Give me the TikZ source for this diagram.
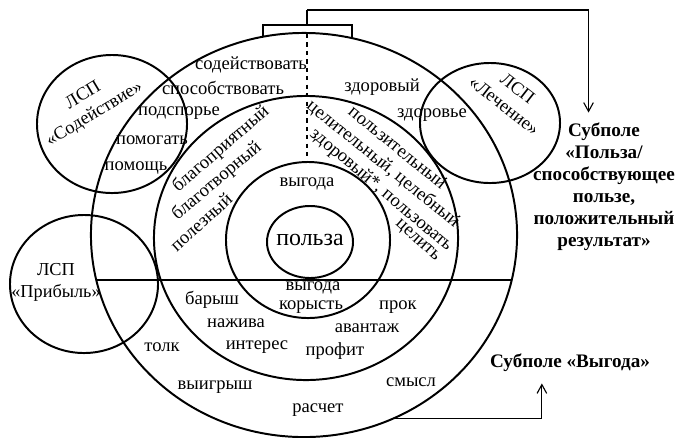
\documentclass[tikz,border=0pt]{standalone}
\usepackage{fontspec}
\setmainfont{Liberation Serif}
\newfontfamily\tms{Liberation Serif}
\usetikzlibrary{arrows.meta, positioning, shapes.geometric}

\begin{document}
\begin{tikzpicture}[
  x=0.025cm, y=-0.025cm,
  >={Straight Barb[length=2.2mm, width=2.4mm]},
  every node/.style={font=\tms\fontsize{13.2}{15}\selectfont, inner sep=1pt},
  ring/.style={draw, ellipse, line width=1.4pt, inner sep=0pt, outer sep=0pt},
  lsp/.style={align=center, font=\tms\fontsize{13}{15.5}\selectfont},
  subf/.style={align=center, font=\tms\fontsize{13.6}{15.6}\selectfont\bfseries},
  thin/.style={line width=0.8pt},
]
\useasboundingbox (0,0) rectangle (676,437);

% concentric field: outer ring, middle ring, inner ring, core
\node[ring, minimum width=10.65cm, minimum height=10.1cm] (fld) at (304,235) {};
\node[ring, minimum width=7.6cm, minimum height=7.1cm] (mid) at (306,238) {};
\node[ring, minimum width=4.1cm, minimum height=3.9cm] (rng) at (308,240) {};
\node[ring, minimum width=2.15cm, minimum height=1.8cm] (core) at (310,242) {};

% neighbouring fields
\node[ring, minimum width=3.75cm, minimum height=3.45cm] (sod) at (112,124) {};
\node[ring, minimum width=3.5cm, minimum height=3.0cm] (lech) at (490,123) {};
\node[ring, minimum width=3.7cm, minimum height=3.45cm] (prib) at (84,284) {};

% --- dividing lines ---
\coordinate (hl) at (96,280);
\coordinate (hr) at (512,280);
\draw[line width=1pt] (hl) -- (hr);
\coordinate (dtop) at (307,34);
\coordinate (dbot) at (307,162);
\draw[thin, dashed] (dtop) -- (dbot);

% --- labels ---
\node[font=\tms\fontsize{17}{20}\selectfont] (pol) at (310,240) {польза};

\node[lsp, rotate=31] (lsod) at (89,105) {ЛСП\\«Содействие»};
\node[lsp, rotate=-38] (llech) at (511,97) {ЛСП\\«Лечение»};
\node[lsp] (lprib) at (56,282) {ЛСП\\«Прибыль»};

% outer ring, upper half
\node (w1) at (251,65) {содействовать};
\node (w2) at (223,88) {способствовать};
\node (w3) at (179,113) {подспорье};
\node (w4) at (152,140) {помогать};
\node (w5) at (136,168) {помощь};
\node (w6) at (382,87) {здоровый};
\node (w7) at (432,115) {здоровье};

% middle ring, upper half
\node[rotate=41] (m1) at (221,149) {благоприятный};
\node[rotate=40] (m2) at (217,181) {благотворный};
\node[rotate=42] (m3) at (201,222) {полезный};
\node[rotate=-39] (m4) at (398,147) {пользительный};
\node[rotate=-39] (m5) at (383,164) {целительный, целебный};
\node[rotate=-40] (m6) at (381,190) {здоровый*, пользовать};
\node[rotate=-42] (m7) at (417,241) {целить};

% inner ring
\node (r1) at (307,184) {выгода};
\node (r2) at (313,288) {выгода};
\node (r3) at (311,307) {корысть};

% lower half
\node (b1) at (212,300) {барыш};
\node (b2) at (236,323) {нажива};
\node (b3) at (257,347) {интерес};
\node (b4) at (162,347) {толк};
\node (b5) at (215,387) {выигрыш};
\node (b6) at (318,410) {расчет};
\node (b7) at (398,307) {прок};
\node (b8) at (367,328) {авантаж};
\node (b9) at (335,351) {профит};
\node (b10) at (411,382) {смысл};

% --- subfields and pointers ---
\node[subf, anchor=north] (subpol) at (604,121)
  {Субполе\\«Польза/\\способствующее\\пользе,\\положительный\\результат»};
\node[subf] (subvyg) at (570,363) {Субполе «Выгода»};

\coordinate (brl) at (263,37);
\coordinate (brr) at (352,38);
\coordinate (brm) at (307,25);
\coordinate (brtop) at (307,10);
\draw[thin] (brl) |- (brm) -| (brr);
\draw[thin] (brm) -- (brtop);
\draw[thin, ->, shorten >=6pt] (brtop) -| ([xshift=-11pt]subpol.north);
\draw[thin, ->, shorten >=7pt] (fld.-64) -| ([xshift=-20pt]subvyg.south);
\end{tikzpicture}
\end{document}
